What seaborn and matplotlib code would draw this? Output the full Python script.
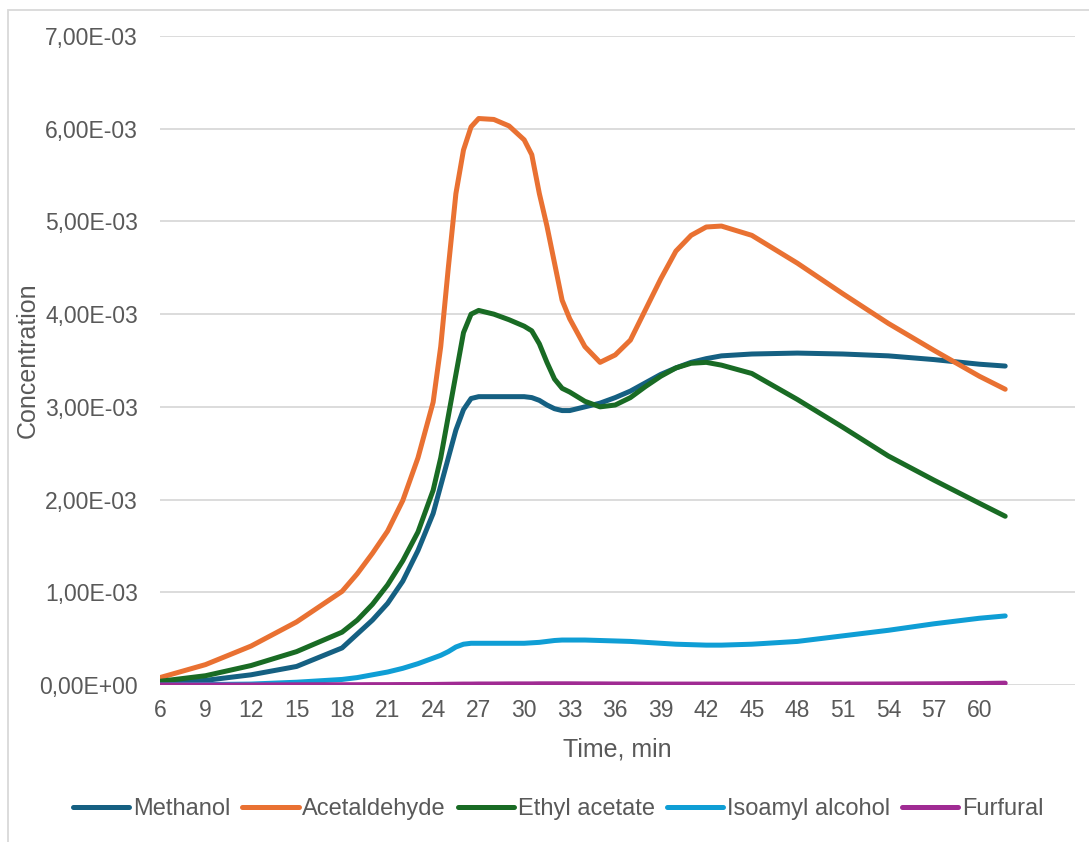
import numpy as np
import pandas as pd
import matplotlib
matplotlib.use("Agg")
import matplotlib.pyplot as plt
import seaborn as sns
from matplotlib.patches import Rectangle
from matplotlib.ticker import FuncFormatter

# time points, min
time_min = [6, 9, 12, 15, 18, 19, 20, 21, 22, 23, 24, 24.5, 25, 25.5, 26, 26.5,
            27, 28, 29, 30, 30.5, 31, 31.5, 32, 32.5, 33, 34, 35, 36, 37, 38, 39,
            40, 41, 42, 43, 45, 48, 51, 54, 57, 60, 61.7]

# concentrations x 1e-3
methanol = [0.02, 0.05, 0.11, 0.20, 0.40, 0.55, 0.70, 0.88, 1.12, 1.45, 1.85, 2.15,
            2.45, 2.75, 2.97, 3.09, 3.11, 3.11, 3.11, 3.11, 3.10, 3.07, 3.02, 2.98,
            2.96, 2.96, 3.00, 3.04, 3.10, 3.17, 3.26, 3.35, 3.42, 3.48, 3.52, 3.55,
            3.57, 3.58, 3.57, 3.55, 3.51, 3.46, 3.44]
acetaldehyde = [0.08, 0.22, 0.42, 0.68, 1.01, 1.20, 1.42, 1.66, 1.99, 2.45, 3.05, 3.65,
                4.50, 5.30, 5.77, 6.02, 6.11, 6.10, 6.03, 5.88, 5.72, 5.30, 4.95, 4.55,
                4.15, 3.95, 3.65, 3.48, 3.56, 3.72, 4.05, 4.38, 4.68, 4.85, 4.94, 4.95,
                4.85, 4.55, 4.22, 3.90, 3.61, 3.33, 3.19]
ethyl_acetate = [0.04, 0.10, 0.21, 0.36, 0.57, 0.70, 0.87, 1.08, 1.34, 1.65, 2.10, 2.45,
                 2.90, 3.35, 3.80, 4.00, 4.04, 4.00, 3.94, 3.87, 3.82, 3.68, 3.48, 3.30,
                 3.20, 3.16, 3.06, 3.00, 3.02, 3.10, 3.22, 3.33, 3.42, 3.47, 3.48, 3.45,
                 3.36, 3.08, 2.78, 2.47, 2.21, 1.96, 1.82]
isoamyl_alcohol = [0.0, 0.005, 0.01, 0.03, 0.06, 0.08, 0.11, 0.14, 0.18, 0.23, 0.29, 0.32,
                   0.36, 0.41, 0.44, 0.45, 0.45, 0.45, 0.45, 0.45, 0.455, 0.46, 0.47, 0.48,
                   0.485, 0.485, 0.485, 0.48, 0.475, 0.47, 0.46, 0.45, 0.44, 0.435, 0.43, 0.43,
                   0.44, 0.47, 0.53, 0.59, 0.66, 0.72, 0.745]
furfural = [0.0, 0.0, 0.0, 0.002, 0.003, 0.003, 0.004, 0.004, 0.005, 0.005, 0.006, 0.007,
            0.008, 0.009, 0.01, 0.01, 0.011, 0.011, 0.012, 0.012, 0.012, 0.013, 0.013, 0.013,
            0.013, 0.013, 0.012, 0.012, 0.011, 0.011, 0.01, 0.01, 0.01, 0.01, 0.01, 0.01,
            0.01, 0.01, 0.01, 0.011, 0.013, 0.016, 0.02]

series_names = ["Methanol", "Acetaldehyde", "Ethyl acetate", "Isoamyl alcohol", "Furfural"]
series_values = [methanol, acetaldehyde, ethyl_acetate, isoamyl_alcohol, furfural]
colors = ["#156082", "#E97132", "#196B24", "#0F9ED5", "#A02B93"]

y_ticks = [0, 1e-3, 2e-3, 3e-3, 4e-3, 5e-3, 6e-3, 7e-3]
x_ticks = list(range(6, 61, 3))

frames = []
for name, vals in zip(series_names, series_values):
    frames.append(pd.DataFrame({"Time": time_min,
                                "Concentration": np.array(vals) * 1e-3,
                                "Compound": name}))
df = pd.concat(frames, ignore_index=True)

sns.set_style("white")
plt.rcParams["font.family"] = ["Liberation Sans", "DejaVu Sans"]
grey = "#595959"

fig = plt.figure(figsize=(10.89, 8.42), dpi=100)
W, H = 1089, 842
ax = fig.add_axes([160 / W, 1 - 685 / H, 915 / W, 649 / H])

sns.lineplot(data=df, x="Time", y="Concentration", hue="Compound",
             hue_order=series_names, palette=dict(zip(series_names, colors)),
             estimator=None, sort=False, linewidth=3.6, ax=ax, legend=False,
             solid_capstyle="round", solid_joinstyle="round")

ax.set_xlim(6, 66.3)
ax.set_ylim(0, 7e-3)
ax.set_xticks(x_ticks)
ax.set_yticks(y_ticks)
ax.yaxis.set_major_formatter(FuncFormatter(
    lambda v, p: ("%.2E" % v).replace(".", ",")))
ax.grid(axis="y", color="#d9d9d9", linewidth=1.3)
ax.set_axisbelow(True)
for s in ax.spines.values():
    s.set_visible(False)
ax.tick_params(axis="both", length=0, labelsize=16.5, colors=grey)
ax.tick_params(axis="y", pad=16)
ax.tick_params(axis="x", pad=10)
ax.set_xlabel("")
ax.set_ylabel("")

fig.text(617 / W, 1 - 750 / H, "Time, min", ha="center", va="center",
         fontsize=18, color=grey)
fig.text(28 / W, 1 - 360 / H, "Concentration", ha="center", va="center",
         rotation=90, fontsize=18, color=grey)

handles = [plt.Line2D([], [], color=c, linewidth=3.6, solid_capstyle="round")
           for c in colors]
fig.legend(handles, series_names, loc="center", bbox_to_anchor=(558 / W, 1 - 809 / H),
           ncol=5, frameon=False, fontsize=17, labelcolor=grey,
           handlelength=2.4, handletextpad=0.15, columnspacing=0.5)

fig.patches.append(Rectangle((8 / W, -0.1), 1.2, 1 - 10 / H + 0.1,
                             transform=fig.transFigure, fill=False,
                             edgecolor="#d9d9d9", linewidth=1.3))

fig.savefig("out.png", dpi=100)
